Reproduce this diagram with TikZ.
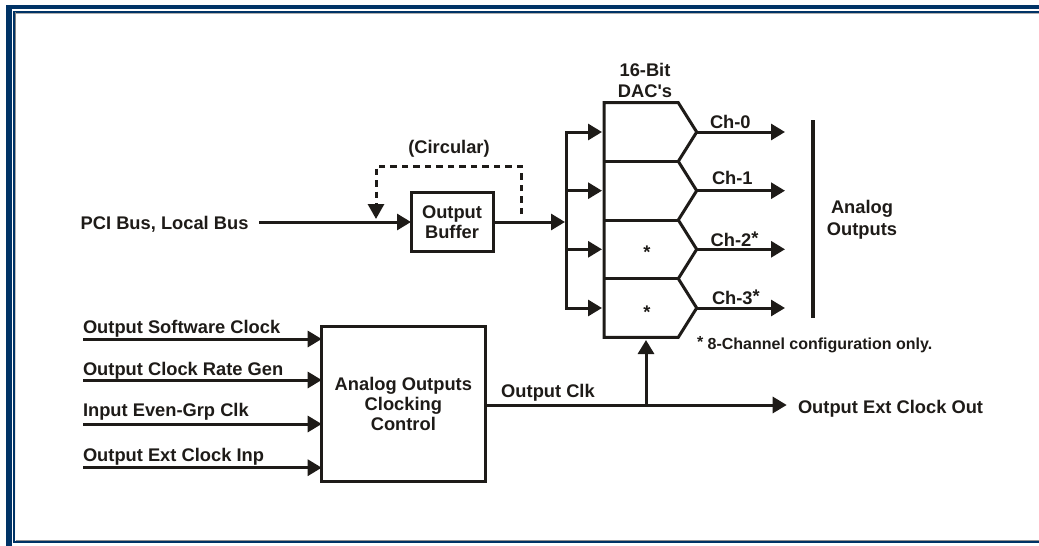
\documentclass[tikz,border=0pt]{standalone}
\usepackage{fontspec}
\setmainfont{Liberation Sans}
\usetikzlibrary{arrows.meta}
\definecolor{navy}{HTML}{003366}
\definecolor{ink}{HTML}{1E1B18}
\definecolor{shade}{HTML}{7F7F7F}
\begin{document}
\begin{tikzpicture}[x=1pt,y=-1pt,
  wire/.style={draw=ink,line width=3pt},
  arr/.style={wire,-{Triangle[length=14pt,width=16pt]}},
  dashwire/.style={wire,dash pattern=on 6.5pt off 5pt},
  lbl/.style={font=\bfseries\fontsize{18.3}{20}\selectfont,text=ink,inner sep=0pt,outer sep=0pt},
  small/.style={font=\bfseries\fontsize{16}{18}\selectfont,text=ink,inner sep=0pt,outer sep=0pt},
  blk/.style={draw=ink,line width=3pt,inner sep=0pt,outer sep=0pt,align=center},
  line join=miter]
\useasboundingbox (0,0) rectangle (1039,546);
% frame
\fill[navy] (6,5) rectangle (1039,9);
\fill[navy] (6,5) rectangle (12,546);
\fill[navy] (12.7,11) rectangle (1039,12.7);
\fill[navy] (12.7,11) rectangle (15,543.3);
\fill[navy] (12.7,540.7) rectangle (1039,543.3);
\fill[shade] (15,12.7) rectangle (1039,13.5);
\fill[shade] (15,12.7) rectangle (15.8,540.7);
\fill[shade] (15.8,539.9) rectangle (1039,540.7);

% input bus and buffer
\node[lbl,anchor=base west] (pci) at (80.7,229) {PCI Bus, Local Bus};
\node[blk,lbl,minimum width=82,minimum height=59] (buf) at (452,222) {Output\\Buffer};
\coordinate (pcie) at ([xshift=11pt]pci.east);
\draw[arr] (pcie |- buf.west) -- (buf.west);

% circular loop
\coordinate (dsA) at (521,214);
\coordinate (dsB) at (521,166);
\coordinate (dsC) at (376,166);
\coordinate (dsD) at (376,219);
\draw[dashwire,-{Triangle[length=15pt,width=16pt]}] (dsA) -- (dsB) -- (dsC) -- (dsD);
\node[lbl,anchor=base] (circ) at (449,153) {(Circular)};

% distribution bus
\coordinate (b0) at (566.7,132);
\coordinate (b1) at (566.7,190.7);
\coordinate (b2) at (566.7,249.3);
\coordinate (b3) at (566.7,308);
\coordinate (bin) at (565,222);
\draw[arr] (buf.east) -- (bin);
\draw[wire,line cap=rect] (b0) -- (b3);

% DACs
\draw[wire] (678.3,337.3) -- (604,337.3) -- (604,102.7) -- (678.3,102.7)
  -- (696.7,132) -- (678.3,161.35) -- (696.7,190.7) -- (678.3,220)
  -- (696.7,249.3) -- (678.3,278.65) -- (696.7,308) -- cycle;
\draw[wire] (604,161.35) -- (678.3,161.35);
\draw[wire] (604,220) -- (678.3,220);
\draw[wire] (604,278.65) -- (678.3,278.65);
\coordinate (d0in) at (602,132);
\coordinate (d1in) at (602,190.7);
\coordinate (d2in) at (602,249.3);
\coordinate (d3in) at (602,308);
\coordinate (d0out) at (696.7,132);
\coordinate (d1out) at (696.7,190.7);
\coordinate (d2out) at (696.7,249.3);
\coordinate (d3out) at (696.7,308);
\coordinate (o0) at (785,132);
\coordinate (o1) at (785,190.7);
\coordinate (o2) at (785,249.3);
\coordinate (o3) at (785,308);
\draw[arr] (b0) -- (d0in);
\draw[arr] (b1) -- (d1in);
\draw[arr] (b2) -- (d2in);
\draw[arr] (b3) -- (d3in);
\draw[arr] (d0out) -- (o0);
\draw[arr] (d1out) -- (o1);
\draw[arr] (d2out) -- (o2);
\draw[arr] (d3out) -- (o3);
\node[lbl,align=center,font=\bfseries\fontsize{18.3}{21}\selectfont] (dactitle) at (645,80) {16-Bit\\DAC\textquotesingle s};
\node[lbl,anchor=base west] (ch0) at (710,128) {Ch-0};
\node[lbl,anchor=base west] (ch1) at (712,184.5) {Ch-1};
\node[lbl,anchor=base west] (ch2) at (710.7,246.5) {Ch-2\raisebox{2pt}{*}};
\node[lbl,anchor=base west] (ch3) at (712,304.5) {Ch-3\raisebox{2pt}{*}};
\node[lbl,anchor=base] (s2) at (647,258) {*};
\node[lbl,anchor=base] (s3) at (647,318) {*};
\node[small,anchor=base west] (note) at (697,349.3) {\raisebox{2pt}{*} 8-Channel configuration only.};

% analog outputs bar
\coordinate (v1) at (813,120);
\coordinate (v2) at (813,318);
\draw[draw=ink,line width=3.5pt] (v1) -- (v2);
\node[lbl,align=center,font=\bfseries\fontsize{18.3}{22}\selectfont] (ao) at (862,219.6) {Analog\\Outputs};

% clocking control
\node[blk,lbl,minimum width=163.3,minimum height=155] (clk) at (403.35,404.2) {Analog Outputs\\Clocking\\Control};
\coordinate (i1) at (83,339);
\coordinate (i2) at (83,380);
\coordinate (i3) at (83,424);
\coordinate (i4) at (83,467.7);
\draw[arr] (i1) -- (i1 -| clk.west);
\draw[arr] (i2) -- (i2 -| clk.west);
\draw[arr] (i3) -- (i3 -| clk.west);
\draw[arr] (i4) -- (i4 -| clk.west);
\node[lbl,anchor=base west] (t1) at (83,333.3) {Output Software Clock};
\node[lbl,anchor=base west] (t2) at (83,375.7) {Output Clock Rate Gen};
\node[lbl,anchor=base west] (t3) at (83,416.7) {Input Even-Grp Clk};
\node[lbl,anchor=base west] (t4) at (83,461) {Output Ext Clock Inp};

% output clock
\coordinate (jn) at (646,405);
\coordinate (eo) at (786.7,405);
\coordinate (db) at (646,340);
\draw[arr] (clk.east |- jn) -- (eo);
\draw[arr] (jn) -- (db);
\node[lbl,anchor=base] (oclk) at (548,397.3) {Output Clk};
\node[lbl,anchor=base west] (eot) at (798,413.3) {Output Ext Clock Out};
\end{tikzpicture}
\end{document}
